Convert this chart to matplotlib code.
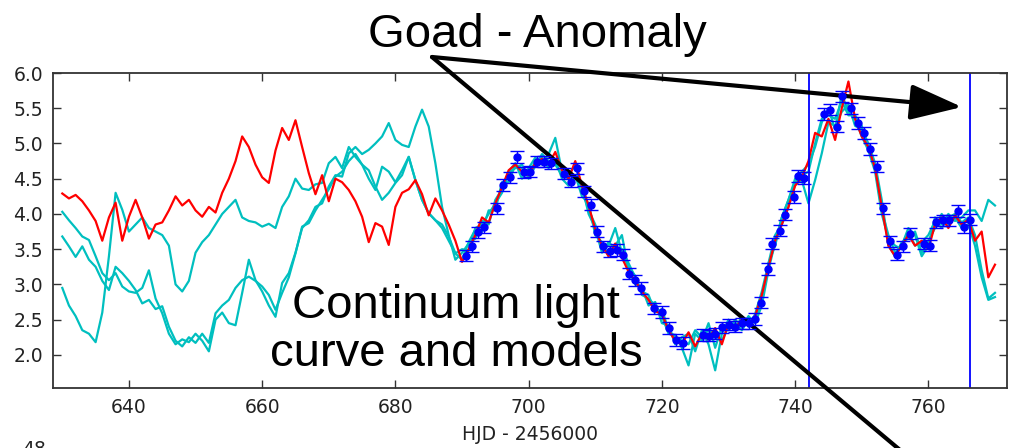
import numpy as np
import matplotlib
matplotlib.use("Agg")
from matplotlib import pyplot as plt

# days of the model light curves (1-day steps)
days = np.arange(630, 771)

red_model = [
    4.29, 4.22, 4.27, 4.18, 4.05, 3.90, 3.62, 3.95, 4.16, 3.62,   # 630
    3.96, 4.20, 3.95, 3.65, 3.85, 3.88, 4.05, 4.25, 4.12, 4.20,   # 640
    4.05, 3.96, 4.10, 4.02, 4.30, 4.50, 4.75, 5.10, 4.95, 4.70,   # 650
    4.52, 4.44, 4.90, 5.22, 5.05, 5.33, 4.95, 4.58, 4.28, 4.55,   # 660
    4.18, 4.50, 4.45, 4.34, 4.18, 3.96, 3.60, 3.87, 3.82, 3.56,   # 670
    4.10, 4.30, 4.35, 4.48, 4.28, 3.98, 4.22, 4.05, 3.85, 3.62,   # 680
    3.32, 3.50, 3.70, 3.95, 3.88, 4.15, 4.38, 4.62, 4.70, 4.60,   # 690
    4.55, 4.72, 4.78, 4.70, 4.88, 4.62, 4.50, 4.75, 4.40, 4.12,   # 700
    3.78, 3.55, 3.40, 3.58, 3.38, 3.18, 3.05, 2.90, 2.78, 2.62,   # 710
    2.58, 2.35, 2.20, 2.15, 2.32, 2.12, 2.30, 2.22, 2.38, 2.15,   # 720
    2.45, 2.38, 2.50, 2.42, 2.55, 2.85, 3.25, 3.62, 3.85, 4.10,   # 730
    4.40, 4.52, 4.75, 5.15, 5.10, 5.35, 5.05, 5.50, 5.88, 5.35,   # 740
    5.10, 4.95, 4.65, 4.10, 3.55, 3.40, 3.55, 3.70, 3.55, 3.62,   # 750
    3.50, 3.85, 3.95, 3.80, 3.98, 3.85, 3.92, 3.62, 3.75, 3.10,   # 760
    3.28,                                                         # 770
]

cyan_a = [
    4.03, 3.91, 3.80, 3.68, 3.63, 3.40, 3.16, 3.06, 3.16, 2.97,
    2.90, 2.88, 2.95, 3.20, 2.80, 2.59, 2.30, 2.15, 2.22, 2.18,
    2.30, 2.20, 2.05, 2.50, 2.60, 2.45, 2.42, 2.88, 3.35, 3.06,
    2.90, 2.70, 2.54, 3.02, 3.16, 3.45, 3.80, 3.91, 4.10, 4.15,
    4.39, 4.55, 4.53, 4.86, 4.95, 4.85, 4.91, 5.00, 5.10, 5.29,
    5.05, 4.98, 4.95, 5.24, 5.48, 5.24, 4.72, 4.10, 3.70, 3.35,
    3.45, 3.58, 3.65, 3.90, 3.85, 4.20, 4.35, 4.60, 4.72, 4.50,
    4.65, 4.80, 4.70, 4.85, 5.08, 4.60, 4.55, 4.70, 4.35, 4.05,
    3.85, 3.50, 3.55, 3.80, 3.45, 3.25, 3.12, 2.85, 2.80, 2.70,
    2.55, 2.30, 2.28, 2.10, 1.85, 2.30, 2.20, 2.45, 2.10, 2.40,
    2.35, 2.50, 2.40, 2.55, 2.45, 2.70, 3.20, 3.60, 3.95, 4.20,
    4.50, 4.60, 4.70, 4.95, 5.30, 5.50, 5.20, 5.70, 5.45, 5.35,
    5.10, 4.90, 4.60, 4.00, 3.65, 3.55, 3.50, 3.75, 3.55, 3.60,
    3.70, 3.90, 3.80, 3.95, 4.00, 3.88, 3.95, 3.70, 3.20, 2.80,
    2.88,
]

cyan_b = [
    3.68, 3.54, 3.39, 3.54, 3.35, 3.25, 3.05, 2.92, 3.25, 3.16,
    3.05, 2.92, 2.73, 2.78, 2.65, 2.69, 2.40, 2.20, 2.12, 2.25,
    2.17, 2.30, 2.17, 2.59, 2.70, 2.78, 2.95, 3.06, 3.11, 3.05,
    2.97, 2.85, 2.64, 2.88, 3.10, 3.44, 3.82, 3.87, 4.05, 4.20,
    4.35, 4.53, 4.60, 4.75, 4.85, 4.70, 4.62, 4.39, 4.20, 4.30,
    4.44, 4.55, 4.81, 4.48, 4.20, 4.01, 3.91, 3.85, 3.68, 3.44,
    3.35, 3.60, 3.78, 3.75, 4.05, 4.05, 4.45, 4.45, 4.70, 4.65,
    4.55, 4.75, 4.80, 4.65, 4.78, 4.50, 4.40, 4.55, 4.25, 4.15,
    3.70, 3.60, 3.40, 3.55, 3.70, 3.20, 3.00, 2.95, 2.70, 2.75,
    2.45, 2.42, 2.15, 2.25, 2.30, 2.05, 2.35, 2.15, 1.78, 2.30,
    2.50, 2.35, 2.55, 2.40, 2.58, 2.90, 3.30, 3.70, 3.85, 4.10,
    4.42, 4.48, 4.15, 4.48, 4.86, 5.30, 5.25, 5.45, 5.55, 5.25,
    5.20, 5.00, 4.72, 4.20, 3.55, 3.40, 3.60, 3.65, 3.75, 3.45,
    3.62, 3.80, 4.00, 3.85, 3.95, 3.80, 3.85, 3.55, 3.10, 2.78,
    2.82,
]

cyan_c = [
    2.95, 2.70, 2.55, 2.35, 2.30, 2.18, 2.60, 3.40, 4.30, 4.06,
    3.75, 3.85, 3.95, 3.80, 3.75, 3.70, 3.55, 3.00, 2.90, 3.05,
    3.45, 3.60, 3.70, 3.85, 4.00, 4.10, 4.20, 3.95, 3.90, 3.88,
    3.82, 3.86, 3.80, 4.10, 4.25, 4.50, 4.36, 4.34, 4.42, 4.44,
    4.72, 4.81, 4.65, 4.95, 4.81, 4.70, 4.50, 4.34, 4.67, 4.60,
    4.45, 4.62, 4.81, 4.48, 4.20, 4.01, 3.91, 3.80, 3.62, 3.44,
    3.50, 3.48, 3.80, 3.85, 4.00, 4.15, 4.30, 4.58, 4.65, 4.70,
    4.50, 4.68, 4.85, 4.75, 4.70, 4.55, 4.50, 4.50, 4.40, 4.00,
    3.80, 3.45, 3.60, 3.50, 3.50, 3.30, 3.10, 2.90, 2.85, 2.60,
    2.65, 2.35, 2.25, 2.20, 2.15, 2.35, 2.25, 2.35, 2.25, 2.20,
    2.40, 2.45, 2.35, 2.50, 2.50, 2.75, 3.30, 3.55, 3.95, 4.20,
    4.45, 4.55, 4.60, 5.00, 5.35, 5.40, 5.35, 5.60, 5.40, 5.40,
    5.25, 4.92, 4.65, 4.05, 3.70, 3.45, 3.55, 3.80, 3.70, 3.40,
    3.55, 3.95, 3.85, 4.00, 3.90, 3.95, 4.05, 4.05, 3.90, 4.20,
    4.12,
]

# observed continuum points
obs_t = [
    690.6, 691.5, 692.4, 693.3, 695.2, 696.2, 697.2, 698.2, 699.3, 700.2,
    701.3, 702.3, 703.3, 705.3, 706.3, 707.2, 708.3, 709.3, 710.2, 711.2,
    712.2, 713.2, 714.2, 715.1, 716.0, 716.8, 718.8, 720.0, 721.1, 722.1,
    723.1, 726.1, 727.1, 727.9, 729.0, 730.0, 730.9, 732.1, 733.1, 734.0,
    734.9, 736.0, 736.6, 737.7, 738.5, 739.9, 740.4, 741.4, 744.4, 745.3,
    746.3, 747.1, 748.4, 749.4, 750.4, 751.2, 752.3, 753.2, 754.2, 755.3,
    756.2, 757.2, 759.4, 760.3, 761.2, 762.2, 763.1, 764.4, 765.4, 766.2,
]
obs_f = [
    3.41, 3.54, 3.74, 3.81, 4.08, 4.41, 4.52, 4.81, 4.59, 4.60,
    4.74, 4.74, 4.72, 4.57, 4.46, 4.65, 4.32, 4.13, 3.75, 3.54,
    3.47, 3.49, 3.42, 3.15, 3.06, 2.95, 2.66, 2.61, 2.38, 2.21,
    2.17, 2.28, 2.27, 2.30, 2.39, 2.43, 2.40, 2.45, 2.45, 2.51,
    2.74, 3.22, 3.58, 3.76, 3.99, 4.24, 4.54, 4.51, 5.42, 5.48,
    5.24, 5.67, 5.50, 5.29, 5.15, 4.92, 4.67, 4.08, 3.61, 3.42,
    3.54, 3.72, 3.58, 3.55, 3.88, 3.91, 3.91, 4.04, 3.81, 3.92,
]
obs_err = 0.08

anomaly_window = [742.1, 766.2]

plt.rcParams['font.family'] = ['DejaVu Sans']
fig = plt.figure(figsize=(10.09, 4.48), dpi=100)
ax = fig.add_axes([0.0525, 0.134, 0.9455, 0.703])

for c in (cyan_a, cyan_b, cyan_c):
    ax.plot(days, c, color='c', lw=1.6)
ax.plot(days, red_model, color='r', lw=1.6)
ax.errorbar(obs_t, obs_f, yerr=obs_err, fmt='o', color='b', ms=5,
            mec='b', ecolor='b', elinewidth=1, capsize=5, capthick=1, zorder=5)
for t in anomaly_window:
    ax.axvline(t, color='b', lw=1.3)

ax.set_xlim(628.6, 771.8)
ax.set_ylim(1.53, 6.0)
ax.set_xticks(np.arange(640, 761, 20))
ax.set_yticks(np.arange(2.0, 6.01, 0.5))
ax.yaxis.set_major_formatter(matplotlib.ticker.FormatStrFormatter('%.1f'))
ax.tick_params(direction='in', top=True, right=True, length=6, width=1,
               labelsize=13.5, colors='#333333', labelcolor='#222222')
ax.tick_params(axis='x', pad=7)
ax.tick_params(axis='y', pad=7)
for s in ax.spines.values():
    s.set_color('#333333')
    s.set_linewidth(1.3)
ax.set_xlabel('HJD - 2456000', fontsize=13.5, color='#222222', labelpad=6)

# overlay slide annotations
fig.text(537 / 1009, 1 - 35 / 448, 'Goad - Anomaly', ha='center', va='center',
         fontsize=34, family='Liberation Sans')
fig.text(456 / 1009, 1 - 330 / 448, 'Continuum light\ncurve and models',
         ha='center', va='center', fontsize=34, family='Liberation Sans',
         linespacing=1.1, zorder=10)
fig.text(22 / 1009, 8 / 448, '48', ha='left', va='top', fontsize=13.5,
         color='#222222')

ax.annotate('', xy=(962, 448 - 107), xycoords='figure pixels',
            xytext=(432, 448 - 57), textcoords='figure pixels',
            arrowprops=dict(arrowstyle='-|>,head_length=1.6,head_width=0.55',
                            mutation_scale=20, lw=3, color='k',
                            shrinkA=0, shrinkB=0),
            annotation_clip=False)
ax.annotate('', xy=(900, -2), xycoords='figure pixels',
            xytext=(432, 448 - 57), textcoords='figure pixels',
            arrowprops=dict(arrowstyle='-', lw=3, color='k',
                            shrinkA=0, shrinkB=0),
            annotation_clip=False)

fig.savefig('out.png', dpi=100)
